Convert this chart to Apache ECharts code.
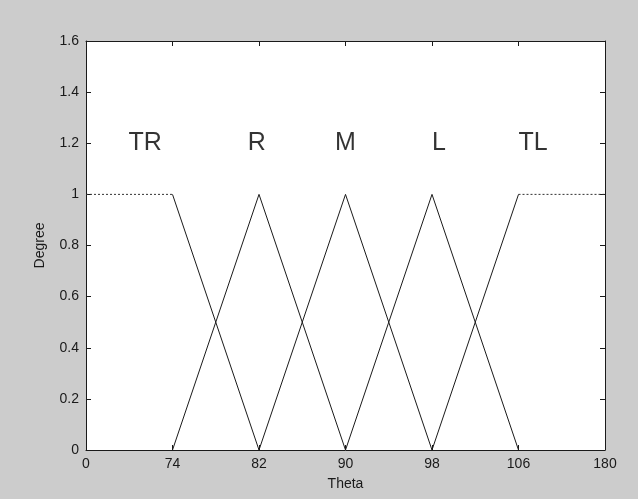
<!DOCTYPE html>
<html>
<head>
<meta charset="utf-8">
<script src="https://cdn.jsdelivr.net/npm/echarts@6/dist/echarts.min.js"></script>
<style>
  html, body { margin: 0; padding: 0; background: #cccccc; }
  #chart { width: 638px; height: 499px; }
</style>
</head>
<body>
<div id="chart"></div>
<script>
// Theta tick labels, evenly spaced along the horizontal axis (index 0..6)
const thetaTicks = ['0', '74', '82', '90', '98', '106', '180'];

// Membership degree of each fuzzy set at every theta tick (null = not defined there)
const setNames = ['TR', 'R', 'M', 'L', 'TL'];
const TR = [1, 1, 0, null, null, null, null];
const R  = [null, 0, 1, 0, null, null, null];
const M  = [null, null, 0, 1, 0, null, null];
const L  = [null, null, null, 0, 1, 0, null];
const TL = [null, null, null, null, 0, 1, 1];
const memberships = [TR, R, M, L, TL];

// Where each set name is written (axis index units, degree)
const labelX = [0.49, 1.87, 2.88, 4.0, 5.0];
const labelY = 1.2;

const ink = '#1a1a1a';
const font = 'Liberation Sans, Arial, sans-serif';

// One line series per segment: flat plateaus are dotted, slopes are solid
const series = [];
memberships.forEach(function (m, s) {
  for (let i = 0; i < m.length - 1; i++) {
    if (m[i] === null || m[i + 1] === null) continue;
    const flat = m[i] === 1 && m[i + 1] === 1;
    series.push({
      type: 'line',
      name: setNames[s],
      data: [[i, m[i]], [i + 1, m[i + 1]]],
      symbol: 'none',
      silent: true,
      animation: false,
      lineStyle: { color: flat ? '#333' : ink, width: 1, type: flat ? [2, 2] : 'solid' }
    });
  }
});

// Set names written inside the plot
series.push({
  type: 'scatter',
  data: setNames.map(function (n, i) { return { name: n, value: [labelX[i], labelY] }; }),
  symbolSize: 0,
  silent: true,
  animation: false,
  label: {
    show: true,
    position: 'right',
    distance: 0,
    formatter: function (p) { return p.name; },
    fontFamily: font,
    fontSize: 25,
    color: '#000'
  }
});

const tickStyle = { inside: true, length: 5, lineStyle: { color: ink, width: 1 } };
const lineStyle = { show: true, onZero: false, lineStyle: { color: ink, width: 1 } };
const labelStyle = { fontFamily: font, fontSize: 14, color: ink };

const option = {
  backgroundColor: '#cccccc',
  animation: false,
  grid: {
    left: 86, right: 33, top: 41, bottom: 49,
    show: true, backgroundColor: '#ffffff', borderWidth: 0
  },
  xAxis: [
    {
      type: 'value', min: 0, max: 6, interval: 1, position: 'bottom',
      axisLine: lineStyle, axisTick: tickStyle, splitLine: { show: false },
      axisLabel: Object.assign({ margin: 7, formatter: function (v) { return thetaTicks[v]; } }, labelStyle),
      name: 'Theta', nameLocation: 'middle', nameGap: 27,
      nameTextStyle: { fontFamily: font, fontSize: 14, color: ink }
    },
    {
      type: 'value', min: 0, max: 6, interval: 1, position: 'top',
      axisLine: lineStyle, axisTick: tickStyle, splitLine: { show: false },
      axisLabel: { show: false }
    }
  ],
  yAxis: [
    {
      type: 'value', min: 0, max: 1.6, interval: 0.2, position: 'left',
      axisLine: lineStyle, axisTick: tickStyle, splitLine: { show: false },
      axisLabel: Object.assign({ margin: 7 }, labelStyle),
      name: 'Degree', nameLocation: 'middle', nameGap: 39,
      nameTextStyle: { fontFamily: font, fontSize: 14, color: ink }
    },
    {
      type: 'value', min: 0, max: 1.6, interval: 0.2, position: 'right',
      axisLine: lineStyle, axisTick: tickStyle, splitLine: { show: false },
      axisLabel: { show: false }
    }
  ],
  series: series
};

const chart = echarts.init(document.getElementById('chart'), null, { renderer: 'canvas' });
chart.setOption(option);
</script>
</body>
</html>
